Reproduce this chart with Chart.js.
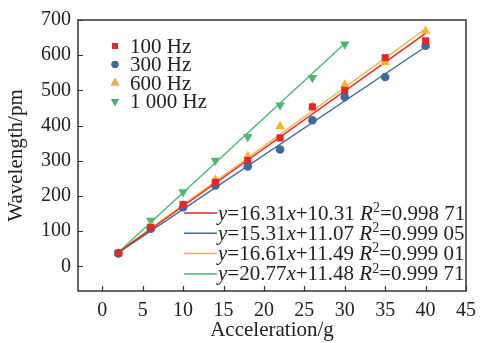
<!DOCTYPE html>
<html>
<head>
<meta charset="utf-8">
<script src="https://cdn.jsdelivr.net/npm/chart.js@4/dist/chart.umd.min.js"></script>
<style>
  html, body { margin: 0; padding: 0; background: #fff; }
  #wrap { width: 484px; height: 343px; position: relative; }
</style>
</head>
<body>
<div id="wrap"><canvas id="grafico"></canvas></div>
<script>
// datos
const accel = [2, 6, 10, 14, 18, 22, 26, 30, 35, 40];
const accel1000 = [2, 6, 10, 14, 18, 22, 26, 30];
const hz100 = [38, 111, 176, 239, 301, 365, 453, 500, 593, 641];
const hz300 = [37, 107, 168, 230, 284, 332, 415, 481, 538, 627];
const hz600 = [38, 113, 174, 246, 313, 398, 455, 516, 580, 669];
const hz1000 = [38, 130, 211, 301, 368, 458, 536, 631];

// extremos de las rectas de ajuste
const fitX = [2, 40];
const fitX1000 = [2, 30];
const fit100 = [40, 662];
const fit300 = [39, 624];
const fit600 = [41, 675];
const fit1000 = [40, 633];

const seriesNames = ['100 Hz', '300 Hz', '600 Hz', '1 000 Hz'];
const slopes = ['16.31', '15.31', '16.61', '20.77'];
const intercepts = ['10.31', '11.07', '11.49', '11.48'];
const r2 = ['0.998 71', '0.999 05', '0.999 01', '0.999 71'];

const xTicks = [0, 5, 10, 15, 20, 25, 30, 35, 40, 45];
const yTicks = [0, 100, 200, 300, 400, 500, 600, 700];

const colores = ['#e5262b', '#3b6aa0', '#f7b233', '#4cb873'];
const FONT = '"Liberation Serif", "Times New Roman", serif';

const pts = (xs, ys) => xs.map((x, i) => ({ x: x, y: ys[i] }));

const marcadores = [
  { pointStyle: 'rect', radius: 5, rotation: 0 },
  { pointStyle: 'circle', radius: 4.3, rotation: 0 },
  { pointStyle: 'triangle', radius: 5.5, rotation: 0 },
  { pointStyle: 'triangle', radius: 5.5, rotation: 180 }
];

const datosPuntos = [pts(accel, hz100), pts(accel, hz300), pts(accel, hz600), pts(accel1000, hz1000)];
const datosRectas = [pts(fitX, fit100), pts(fitX, fit300), pts(fitX, fit600), pts(fitX1000, fit1000)];

const datasets = [];
datosPuntos.forEach((d, i) => {
  datasets.push({
    label: seriesNames[i],
    data: d,
    showLine: false,
    pointStyle: marcadores[i].pointStyle,
    pointRadius: marcadores[i].radius,
    rotation: marcadores[i].rotation,
    backgroundColor: colores[i],
    borderColor: colores[i],
    borderWidth: 0
  });
});
datosRectas.forEach((d, i) => {
  datasets.push({
    label: 'fit ' + seriesNames[i],
    data: d,
    showLine: true,
    pointRadius: 0,
    borderColor: colores[i],
    borderWidth: 1.4,
    fill: false
  });
});

// marco y ticks hacia dentro
const marcoPlugin = {
  id: 'marco',
  afterDraw(chart) {
    const ctx = chart.ctx;
    const a = chart.chartArea;
    const xs = chart.scales.x, ys = chart.scales.y;
    ctx.save();
    ctx.strokeStyle = '#333';
    ctx.lineWidth = 1.5;
    ctx.strokeRect(a.left, a.top, a.right - a.left, a.bottom - a.top);
    ctx.lineWidth = 1.2;
    ctx.beginPath();
    xTicks.forEach(v => {
      const px = Math.round(xs.getPixelForValue(v)) + 0.5;
      ctx.moveTo(px, a.bottom);
      ctx.lineTo(px, a.bottom - 5);
    });
    yTicks.forEach(v => {
      const py = Math.round(ys.getPixelForValue(v)) + 0.5;
      ctx.moveTo(a.left, py);
      ctx.lineTo(a.left + 5, py);
    });
    ctx.stroke();

    // leyenda de puntos
    const lx = 115, ly0 = 46, dy = 18.5;
    ctx.font = '21px ' + FONT;
    ctx.textBaseline = 'middle';
    ctx.fillStyle = '#222';
    seriesNames.forEach((n, i) => {
      const y = ly0 + i * dy;
      Chart.helpers.drawPoint(ctx, {
        pointStyle: marcadores[i].pointStyle,
        radius: marcadores[i].radius * 0.8,
        rotation: marcadores[i].rotation,
        borderWidth: 0
      }, lx, y);
      ctx.fillStyle = colores[i];
      ctx.fill();
      ctx.fillStyle = '#222';
      ctx.font = '21px ' + FONT;
      ctx.fillText(n, 130, y + 1);
    });

    // leyenda de rectas con ecuaciones
    const ex0 = 184, ex1 = 217, ey0 = 213, edy = 20.3;
    const normal = '21px ' + FONT, italic = 'italic 21px ' + FONT, sup = '14px ' + FONT;
    seriesNames.forEach((n, i) => {
      const y = ey0 + i * edy;
      ctx.strokeStyle = colores[i];
      ctx.lineWidth = 1.5;
      ctx.beginPath();
      ctx.moveTo(ex0, y);
      ctx.lineTo(ex1, y);
      ctx.stroke();
      const partes = [
        [italic, 'y'], [normal, '=' + slopes[i]], [italic, 'x'],
        [normal, '+' + intercepts[i] + ' '], [italic, 'R'],
        [sup, '2'], [normal, '=' + r2[i]]
      ];
      let x = ex1 + 1;
      ctx.fillStyle = '#222';
      partes.forEach(p => {
        ctx.font = p[0];
        const off = p[0] === sup ? -5 : 1;
        ctx.fillText(p[1], x, y + off);
        x += ctx.measureText(p[1]).width;
      });
    });
    ctx.restore();
  }
};

new Chart(document.getElementById('grafico'), {
  type: 'scatter',
  data: { datasets: datasets },
  options: {
    responsive: true,
    maintainAspectRatio: false,
    animation: false,
    layout: { padding: { top: 20, right: 12, left: 0, bottom: 0 } },
    plugins: {
      legend: { display: false },
      tooltip: { enabled: false }
    },
    scales: {
      x: {
        type: 'linear',
        min: -3,
        max: 45,
        afterBuildTicks: s => { s.ticks = xTicks.map(v => ({ value: v })); },
        afterFit: s => { s.height = 52; },
        grid: { display: false, drawTicks: false },
        border: { display: false },
        ticks: { padding: 8, color: '#222', font: { family: FONT, size: 20 } },
        title: {
          display: true,
          text: 'Acceleration/g',
          color: '#222',
          font: { family: FONT, size: 21 },
          padding: { top: 0, bottom: 0 }
        }
      },
      y: {
        type: 'linear',
        min: -70,
        max: 700,
        afterBuildTicks: s => { s.ticks = yTicks.map(v => ({ value: v })); },
        afterFit: s => { s.width = 78; },
        grid: { display: false, drawTicks: false },
        border: { display: false },
        ticks: { padding: 7, color: '#222', font: { family: FONT, size: 20 } },
        title: {
          display: true,
          text: 'Wavelength/pm',
          color: '#222',
          font: { family: FONT, size: 21 },
          padding: { top: 4, bottom: 0 }
        }
      }
    }
  },
  plugins: [marcoPlugin]
});
</script>
</body>
</html>
